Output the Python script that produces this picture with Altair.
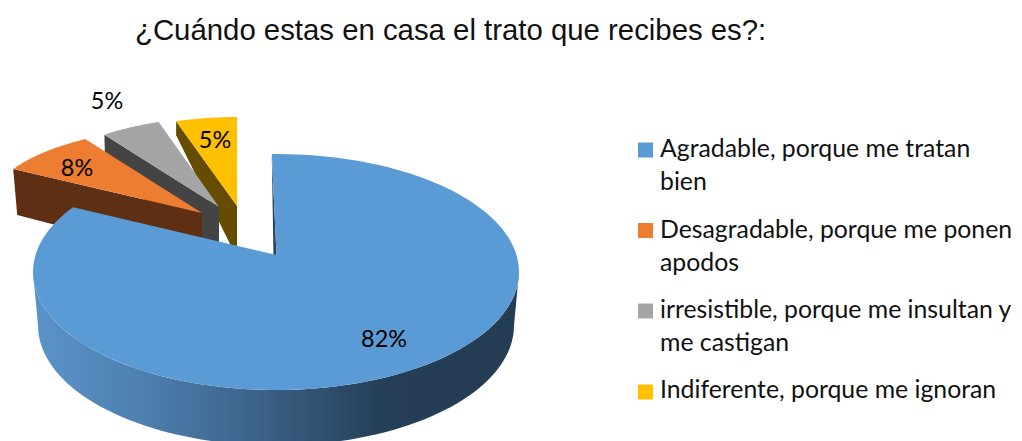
import math
import altair as alt
import pandas as pd

TITLE = "¿Cuándo estas en casa el trato que recibes es?:"
categories = [
    "Agradable, porque me tratan\nbien",
    "Desagradable, porque me ponen\napodos",
    "irresistible, porque me insultan y\nme castigan",
    "Indiferente, porque me ignoran",
]
shares = [82, 8, 5, 5]
colors = ["#5B9BD5", "#ED7D31", "#A5A5A5", "#FFC000"]
wall_colors = [None, "#5F2F13", "#444444", "#654C00"]

W, H = 1006, 433
X = alt.X("x:Q", scale=alt.Scale(domain=[8, 8 + W], range=[0, W]), axis=None)
Y = alt.Y("y:Q", scale=alt.Scale(domain=[8 + H, 8], range=[H, 0]), axis=None)


def rim(cx, cy, rx, ry, t0, t1, n=80):
    out = []
    for i in range(n + 1):
        t = math.radians(t0 + (t1 - t0) * i / n)
        out.append((cx + rx * math.sin(t), cy - ry * math.cos(t)))
    return out


def poly(points, fill):
    closed = list(points) + [points[0]]
    df = pd.DataFrame({"x": [p[0] for p in closed], "y": [p[1] for p in closed], "o": range(len(closed))})
    return alt.Chart(df).mark_line(fill=fill, strokeWidth=0, strokeOpacity=0, clip=True).encode(
        x=X, y=Y, order="o:Q"
    )


def span(i):
    """Start and end of a slice in degrees, clockwise from the top, negative past the full turn."""
    a = sum(shares[:i]) * 3.6
    return a - 360, a + shares[i] * 3.6 - 360


# depth picture of the three small, pulled out slices
small = {
    1: dict(apex=(202, 213), c=(218.6, 202.4), rx=227, ry=78.3, d_in=50, dx=0, d_out=46, sx=4),
    2: dict(apex=(219, 207), c=(219, 207), rx=195, ry=89.4, d_in=45, dx=0, d_out=38, sx=1),
    3: dict(apex=(237, 206), c=(237, 206), rx=197, ry=89, d_in=44, dx=4, d_out=14, sx=0),
}

layers = []
for i in (3, 2, 1):
    s = small[i]
    t0, t1 = span(i)
    arc = rim(s["c"][0], s["c"][1], s["rx"], s["ry"], t0, t1, 30)
    A = s["apex"]
    R = arc[0]
    layers.append(poly([R, A, (A[0], A[1] + s["d_in"]), (A[0] - s["dx"], A[1] + s["d_in"]),
                        (R[0] + s["sx"], R[1] + s["d_out"])], wall_colors[i]))
    layers.append(poly(arc + [A], colors[i]))

# large slice
CX, CY, RX, RY = 276, 272, 243, 118
apex = (276.5, 255)
t_end = -1 + shares[0] * 3.6 * 1.031
front = rim(CX, CY, RX, RY, 90, 270)
back = rim(CX, 325.5, 238, 120, 270, 90)
side_fill = alt.LinearGradient(
    gradient="linear", x1=0, x2=1, y1=0, y2=0,
    stops=[
        alt.GradientStop(offset=0, color="#5B93C9"),
        alt.GradientStop(offset=0.2, color="#4F82B3"),
        alt.GradientStop(offset=0.45, color="#3D648B"),
        alt.GradientStop(offset=0.72, color="#243F57"),
        alt.GradientStop(offset=1, color="#233D54"),
    ],
)
layers.append(poly(front + back, side_fill))
top = rim(CX, CY, RX, RY, -1, t_end, 160)
layers.append(poly([top[0], (273.5, 256), (276.5, 256), apex], "#24445F"))
layers.append(poly(top + [apex], colors[0]))

# slice labels
lab = pd.DataFrame({
    "x": [384, 77, 107, 215], "y": [340, 169, 102, 141],
    "t": [f"{v}%" for v in shares],
})
layers.append(alt.Chart(lab).mark_text(font="Lato", fontSize=23.4, color="#000000", baseline="middle").encode(
    x=X, y=Y, text="t:N"))

# key
key = pd.DataFrame({"x": [645.5] * 4, "y": [150, 230.5, 311, 392], "c": categories})
layers.append(alt.Chart(key).mark_point(shape="square", filled=True, size=225, opacity=1).encode(
    x=X, y=Y,
    color=alt.Color("c:N", scale=alt.Scale(domain=categories, range=colors), legend=None)))
key_text = pd.DataFrame({"x": [660] * 4, "y": [157, 238, 318, 398], "c": categories})
layers.append(alt.Chart(key_text).mark_text(
    font="Lato", fontSize=24.8, color="#111111", align="left", baseline="alphabetic",
    lineBreak="\n", lineHeight=33).encode(x=X, y=Y, text="c:N"))

chart = alt.layer(*layers).properties(
    width=W, height=H,
    title=alt.TitleParams(TITLE, font="Liberation Sans", fontSize=29.35, fontWeight="normal",
                          color="#111111", anchor="start", frame="group", dx=127, offset=-38),
    autosize=alt.AutoSizeParams(type="none"),
    padding=0,
).configure_view(stroke=None)

chart.save("out.html", embed_options={"renderer": "svg", "actions": False})
